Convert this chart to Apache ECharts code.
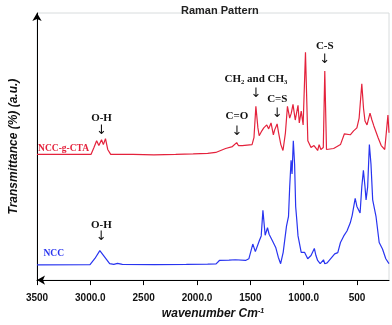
<!DOCTYPE html>
<html><head><meta charset="utf-8">
<script src="https://cdn.jsdelivr.net/npm/echarts@6/dist/echarts.min.js"></script>
<style>html,body{margin:0;padding:0;background:#fff}#c{width:392px;height:325px}</style>
</head><body><div id="c"></div>
<script>
// wavenumber (cm-1) and intensity (a.u.) for each spectrum
const redWn  = [3500,2994,2966,2941,2920,2895,2878,2858,2837,2809,2600,2404,2200,2036,1900,1824,1732,1668,1628,1612,1576,1484,1466,1448,1429,1417,1392,1374,1346,1328,1306,1284,1272,1249,1235,1214,1194,1171,1152,1131,1116,1100,1079,1053,1041,1023,1005,983,961,931,903,869,855,839,816,802,786,719,655,618,563,532,501,480,455,439,425,406,378,360,342,302,273,240,210,200];
const redVal = [128,128,135,142,137,143,138,144,133,128,128,127.5,128,128.5,129,130,134,136,140,137,137,138,145,177,155,147,152,155,158,154,160,148,153,159,150,138,132,150,177,165,170,179,163,178,160,172,158,232,142,135,137,132,138,133,135,213,133,134,138,149,148,152,155,165,200,175,162,158,170,163,157,145,137,133,168,150];
const blueWn  = [3500,3003,2957,2911,2895,2865,2819,2780,2745,2700,2400,2100,1900,1821,1790,1700,1640,1545,1514,1499,1477,1453,1416,1398,1382,1361,1339,1324,1293,1262,1238,1216,1192,1161,1142,1131,1118,1109,1097,1085,1075,1065,1053,1023,1008,992,977,962,931,900,885,869,845,814,802,780,709,680,655,624,594,563,545,517,501,471,455,440,425,415,400,384,369,353,322,292,261,230,200];
const blueVal = [15.5,15.7,22,30,31.7,23.3,16.7,16,17,16,15.8,16,16.3,16.5,20,20.3,20.7,20,21.7,20,36.7,29,40,45,71,45.7,53.3,46.7,40,33.3,23.3,16.7,28.3,55,65,95,122,108,142,118,75,62,45,28.3,27,28.3,25,21.7,25,32.3,25,20,16.7,20.7,16.7,17.5,26.7,28,38.3,45,50,58.3,66,83.3,75,68.3,95,111.7,95,81.7,95,138,118.3,81.7,65,38.3,31.7,21.7,16.7];
const tickValues = [3500,3000,2500,2000,1500,1000,500];
const tickLabels = ['3500','3000.0','2500','2000.0','1500','1000.0','500'];
// annotations: text, wavenumber, value of text centre, value of arrow centre
const annText  = ['O-H','C=O','CH₂ and CH₃','C=S','C-S','O-H'];
const annWn    = [2895,1626,1447,1247,802,2897];
const annTextV = [165,167,205,184,238,56];
const annArrV  = [152.5,151,190,170,225,44];
const seriesNames = ['NCC-g-CTA','NCC'];
const seriesLabelWn = [3251,3343];
const seriesLabelV = [134,27];

const RED = '#e4223c', BLUE = '#2834f0';
const chart = echarts.init(document.getElementById('c'), null, {renderer:'canvas'});
const toPairs = (w,v) => w.map((x,i)=>[x, v[i]]);
chart.setOption({
  animation:false,
  title:{text:'Raman Pattern', left:176, top:0, textStyle:{fontSize:11, fontWeight:'bold', color:'#222', fontFamily:'Liberation Sans'}},
  grid:{left:31, right:3, top:13, bottom:40, show:true, borderColor:'#d8dcdd', borderWidth:1},
  xAxis:{type:'value', inverse:true, min:200, max:3500,
    axisLine:{show:true, lineStyle:{color:'#000', width:1}, symbol:['arrow','none'], symbolSize:[7,8]},
    axisTick:{show:true, customValues:tickValues, length:5, lineStyle:{color:'#000'}},
    axisLabel:{customValues:tickValues, formatter:v=>tickLabels[tickValues.indexOf(v)], fontSize:10, fontWeight:'bold', color:'#111', margin:13, fontFamily:'Liberation Sans'},
    splitLine:{show:false},
    name:'{a|wavenumber Cm}{b|-1}', nameLocation:'middle', nameGap:24,
    nameTextStyle:{rich:{a:{fontSize:12, fontWeight:'bold', fontStyle:'italic', color:'#111', fontFamily:'Liberation Sans'},
                         b:{fontSize:7, fontWeight:'bold', fontStyle:'italic', color:'#111', verticalAlign:'top', fontFamily:'Liberation Sans'}}}
  },
  yAxis:{type:'value', min:0, max:272,
    axisLine:{show:true, lineStyle:{color:'#000', width:1}, symbol:['none','arrow'], symbolSize:[7,8]},
    axisTick:{show:false}, axisLabel:{show:false}, splitLine:{show:false},
    name:'Transmittance (%) (a.u.)', nameLocation:'middle', nameGap:17,
    nameTextStyle:{fontSize:12, fontWeight:'bold', fontStyle:'italic', color:'#111', fontFamily:'Liberation Sans'}
  },
  series:[
    {name:seriesNames[0], type:'line', showSymbol:false, data:toPairs(redWn, redVal), lineStyle:{color:RED, width:1.2}, itemStyle:{color:RED}},
    {name:seriesNames[1], type:'line', showSymbol:false, data:toPairs(blueWn, blueVal), lineStyle:{color:BLUE, width:1.2}, itemStyle:{color:BLUE}}
  ]
});
const g = [];
annText.forEach((t,i)=>{
  const p = chart.convertToPixel({gridIndex:0}, [annWn[i], annTextV[i]]);
  const q = chart.convertToPixel({gridIndex:0}, [annWn[i], annArrV[i]]);
  g.push({type:'text', x:p[0], y:p[1], style:{text:t, fill:'#111', font:'bold 11px "Liberation Serif"', align:'center', verticalAlign:'middle'}});
  g.push({type:'text', x:q[0], y:q[1], style:{text:'↓', fill:'#111', font:'13px "DejaVu Sans"', align:'center', verticalAlign:'middle'}});
});
seriesNames.forEach((n,i)=>{
  const p = chart.convertToPixel({gridIndex:0}, [seriesLabelWn[i], seriesLabelV[i]]);
  g.push({type:'text', x:p[0], y:p[1], style:{text:n, fill:i===0?RED:BLUE, font:'bold 9.5px "Liberation Serif"', align:'center', verticalAlign:'middle'}});
});
chart.setOption({graphic:g});
</script></body></html>
